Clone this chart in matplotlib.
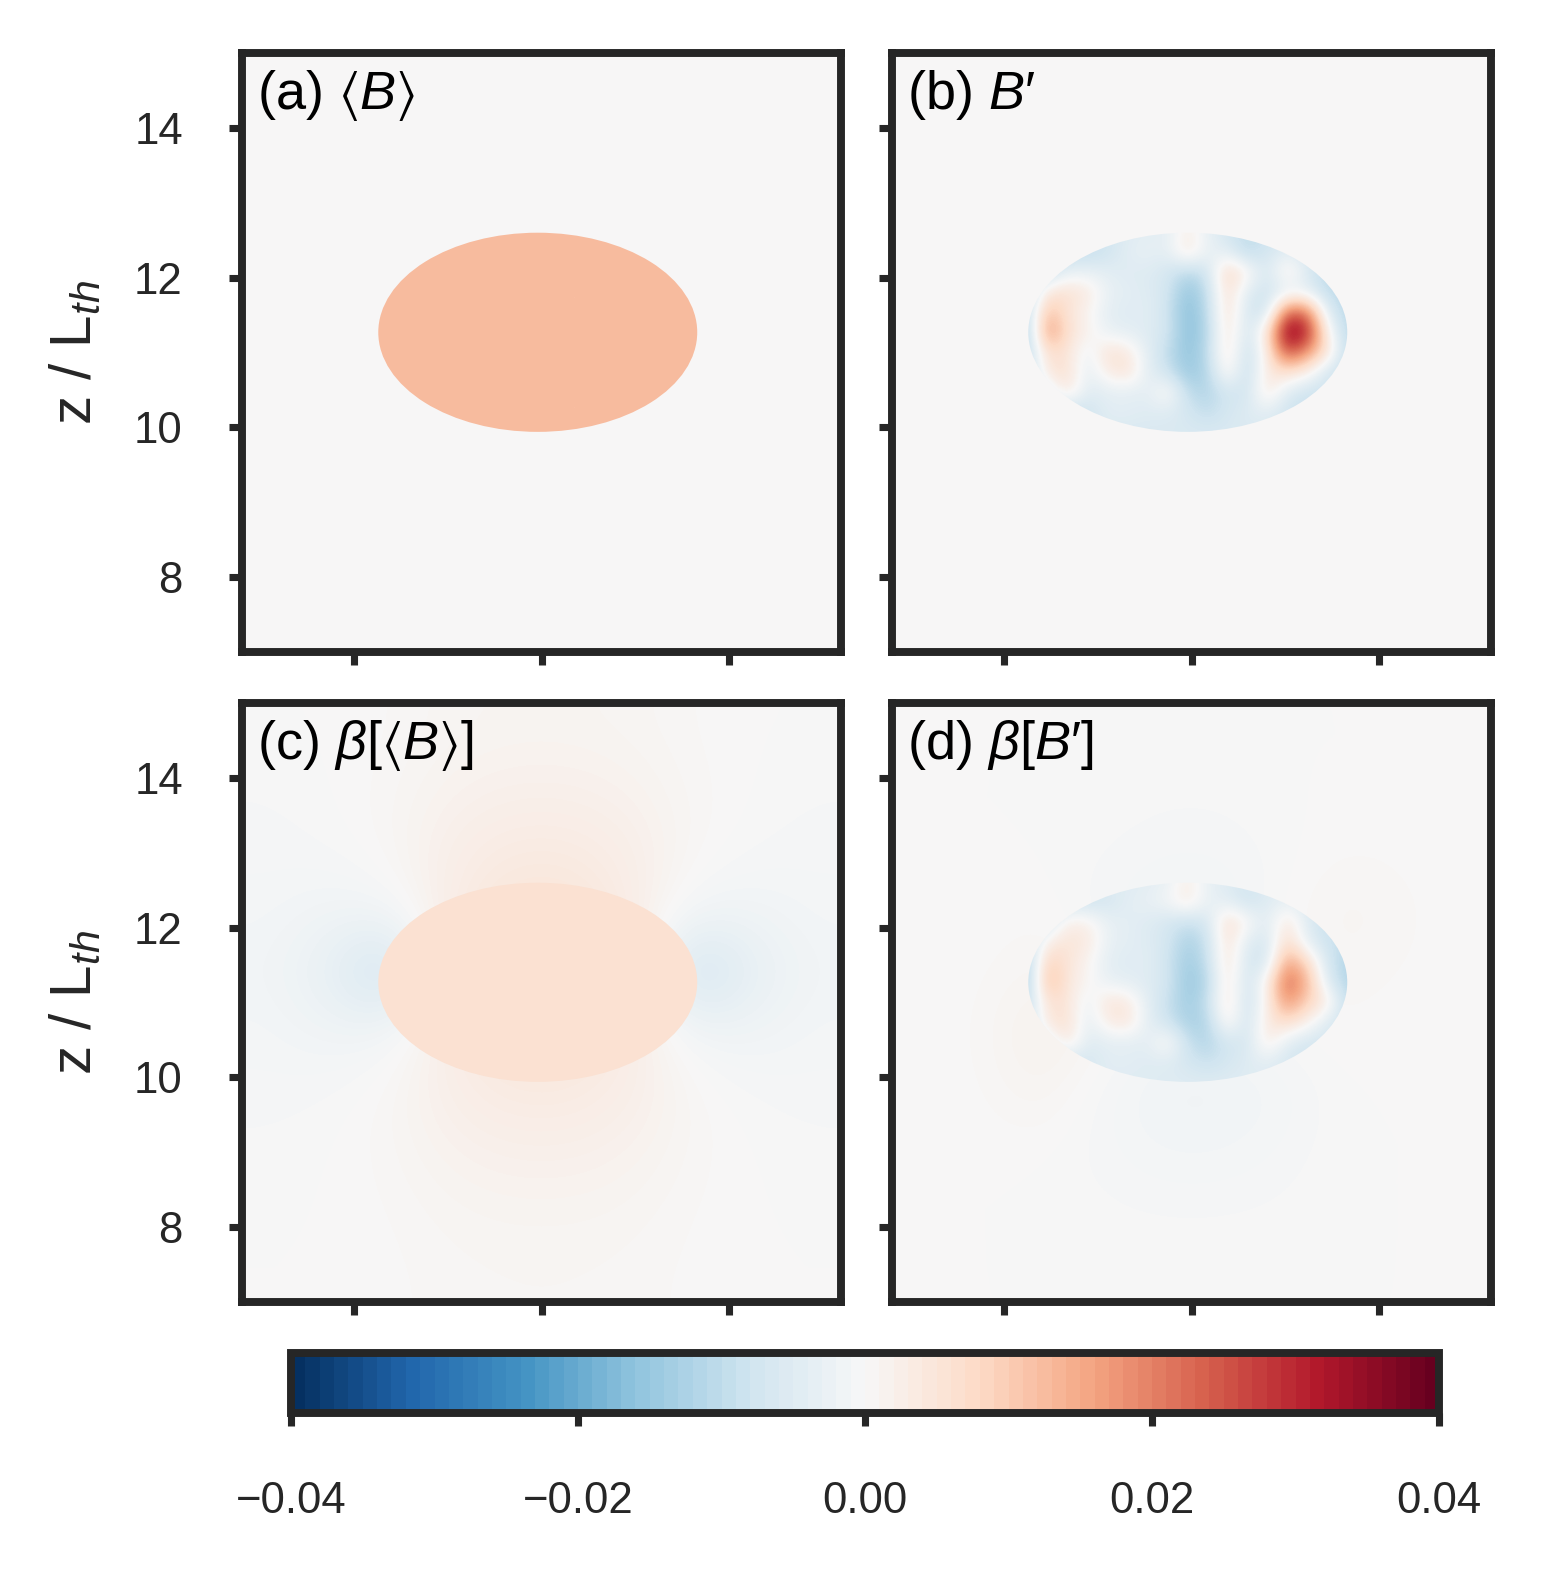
import numpy as np
import matplotlib.pyplot as plt
from matplotlib.patches import Ellipse
from matplotlib.colors import Normalize
from matplotlib.cm import ScalarMappable

plt.rcParams.update({
    'font.family': ['Liberation Sans', 'DejaVu Sans'],
    'mathtext.fontset': 'custom',
    'mathtext.rm': 'Liberation Sans',
    'mathtext.it': 'Liberation Sans:italic',
    'mathtext.fallback': 'stixsans',
    'axes.edgecolor': '#262626',
    'axes.linewidth': 1.9,
    'xtick.color': '#262626',
    'ytick.color': '#262626',
    'text.color': '#262626',
    'axes.labelcolor': '#262626',
})

# domain and the bubble (ellipse)
x_lim = (-4.0, 4.0)
z_lim = (7.0, 15.0)
ell_center = (-0.05, 11.27)
ell_width, ell_height = 4.26, 2.66
vmax = 0.04

# (a) mean field: uniform inside the bubble, zero outside
mean_B_inside = 0.0125
# (c) beta[<B>]: uniform inside, weak dipole-like halo outside (x1e-3)
beta_mean_inside = 0.006
beta_mean_outside = [
    [0, 0, 0.3, 0.8, 1.0, 1.0, 0.8, 0.3, 0, 0],
    [-0.3, 0, 0.5, 1.5, 2.0, 2.0, 1.5, 0.5, 0, -0.3],
    [-0.5, -0.3, 0.5, 2.5, 3.5, 3.5, 2.5, 0.5, -0.3, -0.5],
    [-0.8, -1.5, -1.0, 3.0, 5.0, 5.0, 3.0, -1.0, -1.5, -0.8],
    [-1.2, -3.5, -9.0, 5.0, 6.0, 6.0, 5.0, -9.0, -3.5, -1.2],
    [-0.8, -1.5, -1.0, 3.0, 5.0, 5.0, 3.0, -1.0, -1.5, -0.8],
    [-0.5, -0.3, 0.5, 2.5, 3.5, 3.5, 2.5, 0.5, -0.3, -0.5],
    [-0.2, 0, 0.5, 1.5, 2.0, 2.0, 1.5, 0.5, 0, -0.2],
    [0, 0, 0.3, 0.8, 1.0, 1.0, 0.8, 0.3, 0, 0],
    [0, 0, 0.2, 0.5, 0.6, 0.6, 0.5, 0.2, 0, 0],
]
# (b) fluctuating field B' inside the bubble (x1e-3), rows top -> bottom
B_prime_inside = [
    [-8, -8, -8, -8, -7, -5, -4, -4, 3, -3, -7, -10, -8, -8, -8, -8, -8],
    [-10, -10, -10, -10, -8, -4, -3, -4, 5, -3, -4, -11, -7, -4, -7, -10, -10],
    [-10, -10, -3, -3, -4, -5, -5, -7, -11, -8, 9, 2, -7, 4, -5, -11, -10],
    [-11, 5, 6, 4, -3, -4, -5, -7, -16, -10, 7, -5, -8, -4, -4, -10, -11],
    [-10, 13, 5, 1, -4, -5, -4, -8, -17, -11, 7, -7, -8, 24, 22, -5, -11],
    [-12, 19, 6, 2, -3, -4, -5, -7, -17, -12, 6, -8, 5, 38, 32, 2, -11],
    [-11, 7, 5, -3, 6, 4, -4, -10, -16, -11, 6, -10, 3, 27, 18, 6, -10],
    [-10, 5, 6, -4, 3, 6, -4, -8, -15, -12, 3, -10, 4, 6, 2, -7, -10],
    [-10, -5, 5, -5, -4, -4, -4, 2, -10, -12, -7, -8, 5, -5, -8, -8, -8],
    [-10, -10, -10, -8, -4, -4, -5, -5, -7, -10, -7, -5, -4, -8, -10, -10, -10],
    [-6, -6, -6, -6, -6, -6, -6, -6, -6, -6, -6, -6, -6, -6, -6, -6, -6],
]
# (d) beta[B'] inside the bubble (x1e-3)
beta_prime_inside = [
    [-7, -7, -7, -7, -5, -5, -4, -3, 3, -3, -5, -7, -5, -5, -7, -7, -7],
    [-8, -8, -8, -8, -7, -4, -3, -1, 4, -3, -4, -8, -5, -3, -5, -8, -8],
    [-8, -8, 3, 2, -3, -4, -5, -7, -9, -7, 7, 1, -5, 5, -5, -9, -9],
    [-10, 3, 5, 4, -3, -4, -5, -7, -13, -9, 6, -5, -7, 8, -4, -8, -10],
    [-12, 10, 5, 1, -4, -5, -4, -8, -14, -10, 6, -7, -7, 17, 8, -7, -12],
    [-13, 14, 4, 1, -3, -4, -5, -7, -15, -12, 5, -8, 2, 24, 14, -5, -12],
    [-10, 6, 5, -3, 5, 4, -4, -9, -14, -10, 6, -9, 2, 19, 9, 4, -10],
    [-9, 5, 6, -4, 3, 5, -4, -8, -13, -12, 3, -8, 4, 7, 2, -5, -9],
    [-8, -5, 5, -5, -4, -4, -4, 2, -9, -12, -7, -7, 4, -4, -7, -7, -8],
    [-8, -8, -8, -7, -4, -4, -5, -5, -7, -9, -7, -5, -4, -7, -8, -8, -8],
    [-5, -5, -5, -5, -5, -5, -5, -5, -5, -5, -5, -5, -5, -5, -5, -5, -5],
]
# (d) weak response outside the bubble (x1e-3)
beta_prime_outside = [
    [0, 0, 0, 0, 0, 0, 0, 0, 0, 0],
    [0, 0, 0, 0, -0.2, -0.2, 0, 0, 0, 0],
    [0, 0, 0, -0.3, -0.6, -0.6, -0.2, 0.3, 0.2, 0],
    [0, 0, 0.3, -0.6, -1.2, -1.2, 0, 1.0, 0.5, 0],
    [0, 0.2, 0.8, 0, 0, 0, 0, 0.6, 0.3, 0],
    [0, 0.3, 2.0, 0.6, -0.6, -0.6, 0, 0.3, 0, 0],
    [0, 0.2, 1.2, -0.6, -1.5, -1.5, -1.0, 0, 0, 0],
    [0, 0, 0, -0.5, -1.0, -1.0, -0.6, 0, 0, 0],
    [0, 0, 0, -0.2, -0.3, -0.3, -0.2, 0, 0, 0],
    [0, 0, 0, 0, 0, 0, 0, 0, 0, 0],
]

labels = ['(a) $\u27e8B\u27e9$', '(b) $B\u2032$',
          '(c) $\\beta$[$\u27e8B\u27e9$]', '(d) $\\beta$[$B\u2032$]']

cmap = plt.get_cmap('RdBu_r')
cmap_bar = plt.get_cmap('RdBu_r', 80)
norm = Normalize(-vmax, vmax)

W, H = 1544, 1569
fig = plt.figure(figsize=(W / 300, H / 300), dpi=300)


def box(left, top, w, h):
    return [left / W, (H - top - h) / H, w / W, h / H]


axes = [fig.add_axes(box(242, 53, 599, 599)),
        fig.add_axes(box(892, 53, 599, 599)),
        fig.add_axes(box(242, 703, 599, 599)),
        fig.add_axes(box(892, 703, 599, 599))]
cax = fig.add_axes(box(291, 1353, 1148, 60))

full_ext = [x_lim[0], x_lim[1], z_lim[0], z_lim[1]]
# interior grid points span the bubble's bounding box
nx, nz = 17, 11
x0 = ell_center[0] - ell_width / 2
x1 = ell_center[0] + ell_width / 2
z0 = ell_center[1] - ell_height / 2
z1 = ell_center[1] + ell_height / 2
dx = (x1 - x0) / (nx - 1)
dz = (z1 - z0) / (nz - 1)
in_ext = [x0 - dx / 2, x1 + dx / 2, z0 - dz / 2, z1 + dz / 2]

outside = [np.zeros((2, 2)), np.zeros((2, 2)),
           np.array(beta_mean_outside) * 1e-3,
           np.array(beta_prime_outside) * 1e-3]
inside = [np.full((2, 2), mean_B_inside),
          np.array(B_prime_inside) * 1e-3,
          np.full((2, 2), beta_mean_inside),
          np.array(beta_prime_inside) * 1e-3]

for k, ax in enumerate(axes):
    ax.imshow(outside[k], extent=full_ext, cmap=cmap, norm=norm,
              interpolation='bicubic', aspect='auto')
    im_in = ax.imshow(inside[k], extent=in_ext, cmap=cmap, norm=norm,
                      interpolation='bicubic', aspect='auto')
    clip = Ellipse(ell_center, ell_width, ell_height, transform=ax.transData)
    im_in.set_clip_path(clip)
    ax.set_xlim(*x_lim)
    ax.set_ylim(*z_lim)
    ax.set_xticks([-2.5, 0, 2.5])
    ax.set_xticklabels([])
    ax.set_yticks([8, 10, 12, 14])
    if k % 2 == 0:
        ax.set_ylabel('z / L$_{th}$', fontsize=14, labelpad=7.5)
    else:
        ax.set_yticklabels([])
    ax.tick_params(length=3.2, width=1.7, labelsize=10.5, pad=11)
    ax.text(0.025, 0.975, labels[k], transform=ax.transAxes, ha='left',
            va='top', fontsize=13, color='black')

sm = ScalarMappable(norm=norm, cmap=cmap_bar)
cb = fig.colorbar(sm, cax=cax, orientation='horizontal',
                  ticks=[-0.04, -0.02, 0.0, 0.02, 0.04])
cb.outline.set_linewidth(1.9)
cb.outline.set_edgecolor('#262626')
cax.tick_params(length=3.2, width=1.7, labelsize=10.5, pad=13)

fig.savefig('out.png', dpi=300)
